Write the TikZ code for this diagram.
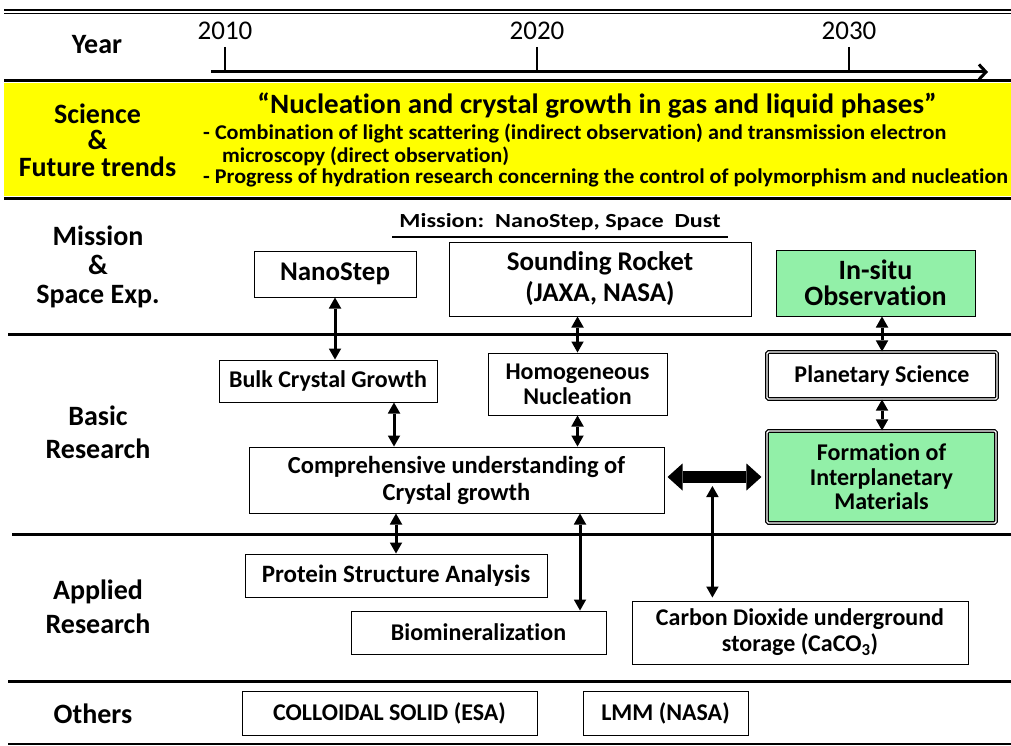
\documentclass[tikz,border=0pt]{standalone}
\usepackage{fontspec}
\setmainfont{Carlito}[Ligatures=NoCommon]
\usetikzlibrary{arrows.meta,calc}
\newcommand\hfit[2]{\resizebox{#1}{\height}{#2}}
\newcommand\fs[2]{\fontsize{#1}{#2}\selectfont}
\definecolor{bandyellow}{RGB}{255,255,0}
\definecolor{mintgreen}{RGB}{146,240,168}

\begin{document}
\begin{tikzpicture}[x=1pt,y=-1pt,
  rule/.style={line width=3pt},
  lbl/.style={align=center,font=\bfseries\fs{28}{29},inner sep=0},
  box/.style={draw,line width=1pt,fill=white,align=center,inner sep=0,
    font=\bfseries\fs{24}{25}},
  dblbox/.style={box,line width=1.1pt,double=white,double distance=1.4pt,
    rounded corners=1.5pt},
  link/.style={line width=3pt,{Triangle[length=11pt,width=12.5pt,line width=0pt]}-{Triangle[length=11pt,width=12.5pt,line width=0pt]}},
  biglink/.style={line width=12pt,{Triangle[length=15pt,width=27pt,line width=0pt]}-{Triangle[length=15pt,width=27pt,line width=0pt]}},
]
\useasboundingbox (0,0) rectangle (1011,746);
\fill[white] (0,0) rectangle (1011,746);

% science band
\fill[bandyellow] (4,83) rectangle (1011,196);

% row separators
\draw[line width=2.5pt] (4,10) -- (1011,10);
\draw[line width=1pt] (4,13.5) -- (1011,13.5);
\draw[rule] (4,81) -- (1011,81);
\draw[line width=3.5pt] (4,198.5) -- (1011,198.5);
\draw[rule] (8,334) -- (1011,334);
\draw[rule] (12,534) -- (1011,534);
\draw[rule] (8,681) -- (1011,681);
\draw[line width=1.5pt] (8,744) -- (1011,744);

% time axis
\coordinate (axisL) at (211,72);
\coordinate (axisR) at (988,72);
\draw[line width=3pt,-{Straight Barb[length=7pt,width=15pt]}] (axisL) -- (axisR);
\foreach \yr/\xx in {2010/225,2020/537,2030/849}{
  \node[font=\fs{27}{27},inner sep=0] (y\yr) at (\xx,31) {\yr};
  \draw[line width=2.5pt] (y\yr |- 0,47) -- (y\yr |- axisL);
}

% row titles
\node[lbl] (lyear) at (97,45) {Year};
\node[lbl,font=\bfseries\fs{28}{26.5}] (lsci) at (97.5,140) {Science\\\&\\Future trends};
\node[lbl] (lmis) at (98,267) {Mission\\\&\\Space Exp.};
\node[lbl,font=\bfseries\fs{28}{33}] (lbasic) at (98,432.5) {Basic\\Research};
\node[lbl,font=\bfseries\fs{28}{34}] (lapp) at (98,607) {Applied\\Research};
\node[lbl] (loth) at (93,714) {Others};

% science and future trends
\node[font=\bfseries\fs{28}{28},inner sep=0] (theme) at (597,106)
  {\hfit{679pt}{“Nucleation and crystal growth in gas and liquid phases”}};
\node[font=\bfseries\fs{21}{21},inner sep=0,anchor=west] (trendA) at (203,133)
  {\hfit{743pt}{- Combination of light scattering (indirect observation) and transmission electron}};
\node[font=\bfseries\fs{21}{21},inner sep=0,anchor=west] (trendAb) at (222,156)
  {\hfit{287pt}{microscopy (direct observation)}};
\node[font=\bfseries\fs{21}{21},inner sep=0,anchor=west] (trendB) at (203,178)
  {\hfit{805pt}{- Progress of hydration research concerning the control of polymorphism and nucleation}};

% missions
\node[font=\bfseries\fs{20}{20},inner sep=0] (mission) at (560,222)
  {\hfit{321pt}{Mission:\ \ NanoStep, Space\ \ Dust}};
\draw[line width=1.5pt] ($(mission.center)+(-168,15)$) -- ($(mission.center)+(168,15)$);

\node[box,minimum width=162pt,minimum height=46pt,font=\bfseries\fs{27}{27}] (nano) at (335,274) {NanoStep};
\node[box,minimum width=302pt,minimum height=74pt,font=\bfseries\fs{27}{31}] (rocket) at (600,279) {Sounding Rocket\\(JAXA, NASA)};
\node[box,fill=mintgreen,minimum width=199pt,minimum height=66pt,font=\bfseries\fs{28}{26}] (insitu) at (875.5,283) {In-situ\\Observation};

% basic research
\node[box,minimum width=218pt,minimum height=42pt] (bulk) at (328,381) {Bulk Crystal Growth};
\node[box,minimum width=179pt,minimum height=62pt] (homog) at (577.5,384) {Homogeneous\\Nucleation};
\node[dblbox,minimum width=230pt,minimum height=47pt] (planet) at (882,375.5) {Planetary Science};
\node[dblbox,fill=mintgreen,minimum width=229pt,minimum height=92pt,font=\bfseries\fs{24}{24.5}] (form) at (881.5,477) {Formation of\\Interplanetary\\Materials};
\node[box,minimum width=415pt,minimum height=66pt,font=\bfseries\fs{24.5}{27}] (compre) at (456.5,480) {Comprehensive understanding of\\Crystal growth};

% applied research
\node[box,minimum width=302pt,minimum height=43pt,font=\bfseries\fs{25}{25}] (protein) at (396,575.5) {Protein Structure Analysis};
\node[box,minimum width=255pt,minimum height=43pt] (biomin) at (478.5,632.5) {Biomineralization};
\node[box,minimum width=336pt,minimum height=63pt,font=\bfseries\fs{24}{26}] (co2) at (800,632.5) {Carbon Dioxide underground\\storage (CaCO\textsubscript{3})};

% others
\node[box,minimum width=295pt,minimum height=44pt] (colloid) at (389.5,713) {COLLOIDAL SOLID (ESA)};
\node[box,minimum width=165pt,minimum height=44pt] (lmm) at (665.5,713) {LMM (NASA)};

% links
\draw[link] (nano.south) -- (nano.south |- bulk.north);
\draw[link] (rocket.south -| homog.north) -- (homog.north);
\draw[link] (insitu.south -| planet.north) -- (planet.north);
\coordinate (bulkout) at ($(bulk.south)+(66,0)$);
\draw[link] (bulkout) -- (bulkout |- compre.north);
\draw[link] (homog.south) -- (homog.south |- compre.north);
\draw[link] (planet.south) -- (planet.south |- form.north);
\draw[link] (protein.north |- compre.south) -- (protein.north);
\coordinate (biomout) at ($(compre.south)+(123.5,0)$);
\draw[link] (biomout) -- (biomout |- biomin.north);
\draw[biglink,shorten <=3pt,shorten >=5pt] (compre.east |- form.west) -- (form.west);
\coordinate (hub) at ($(compre.east |- form.west)!0.47!(form.west)+(0,9)$);
\draw[link,shorten >=3pt] (hub) -- (hub |- co2.north);
\end{tikzpicture}
\end{document}
